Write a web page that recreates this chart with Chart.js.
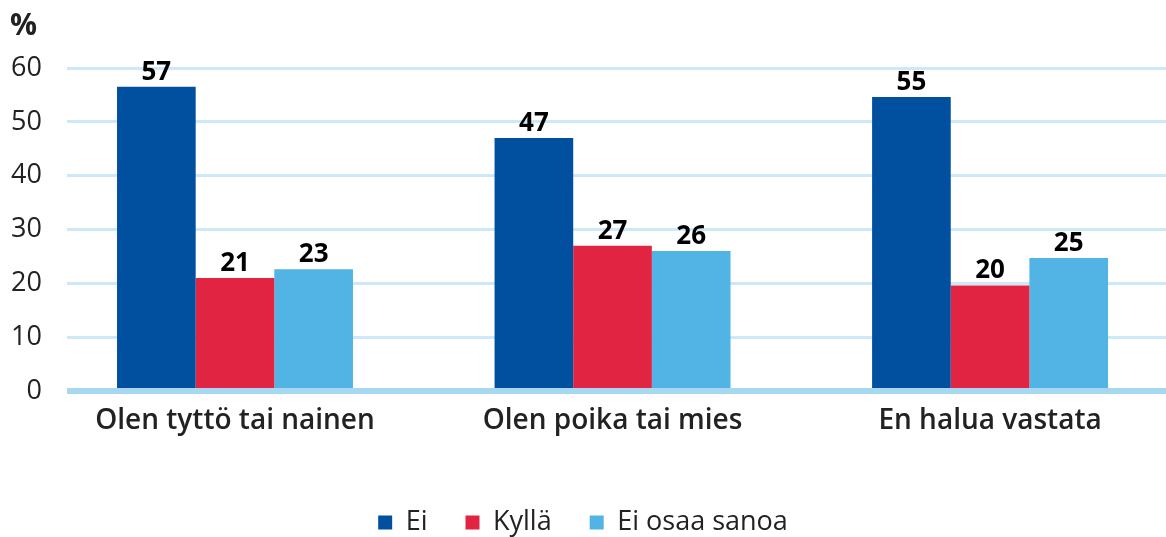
<!DOCTYPE html>
<html>
<head>
<meta charset="utf-8">
<script src="https://cdn.jsdelivr.net/npm/chart.js@4"></script>
<style>
  html, body { margin: 0; padding: 0; background: #fff; }
  #wrap { width: 1166px; height: 537px; }
</style>
</head>
<body>
<div id="wrap"><canvas id="chart"></canvas></div>
<script>
const categories = ['Olen tyttö tai nainen', 'Olen poika tai mies', 'En halua vastata'];
const seriesNames = ['Ei', 'Kyllä', 'Ei osaa sanoa'];
const eiValues = [56.5, 47, 54.6];
const kyllaValues = [21, 27, 19.6];
const eosValues = [22.6, 26, 24.7];
const yTicks = [0, 10, 20, 30, 40, 50, 60];
const colors = ['#00509f', '#e22443', '#52b4e5'];

const font = "'Open Sans', 'Noto Sans', sans-serif";
const textColor = '#222';

function toPoints(vals) {
    return vals.map((v, i) => ({ x: i, y: v }));
}

// value labels above bars + "%" unit label
const barLabels = {
    id: 'barLabels',
    afterDatasetsDraw(chart) {
        const ctx = chart.ctx;
        ctx.save();
        ctx.fillStyle = '#000';
        ctx.font = 'bold 26px ' + font;
        ctx.textAlign = 'center';
        ctx.textBaseline = 'alphabetic';
        chart.data.datasets.forEach((ds, di) => {
            chart.getDatasetMeta(di).data.forEach((bar, i) => {
                ctx.fillText(String(Math.round(ds.data[i].y)), bar.x, bar.y - 7);
            });
        });
        ctx.font = 'bold 30px ' + font;
        ctx.textAlign = 'left';
        ctx.fillStyle = textColor;
        ctx.fillText('%', chart.scales.y.left + 10, 35);
        ctx.restore();
    }
};

const ctx = document.getElementById('chart').getContext('2d');
new Chart(ctx, {
    type: 'bar',
    data: {
        datasets: [
            { label: seriesNames[0], data: toPoints(eiValues), backgroundColor: colors[0] },
            { label: seriesNames[1], data: toPoints(kyllaValues), backgroundColor: colors[1] },
            { label: seriesNames[2], data: toPoints(eosValues), backgroundColor: colors[2] }
        ]
    },
    options: {
        responsive: true,
        maintainAspectRatio: false,
        animation: false,
        events: [],
        layout: { padding: { top: 68, bottom: 0, left: 0, right: 0 } },
        datasets: { bar: { categoryPercentage: 0.625, barPercentage: 1, borderWidth: 0 } },
        scales: {
            x: {
                type: 'linear',
                offset: false,
                min: -0.445,
                max: 2.466,
                afterBuildTicks: s => { s.ticks = categories.map((c, i) => ({ value: i })); },
                afterFit: s => { s.height = 80; },
                grid: { display: false, drawTicks: false },
                border: { display: false },
                ticks: {
                    autoSkip: false,
                    maxRotation: 0,
                    padding: 13,
                    color: textColor,
                    font: { family: font, size: 28, weight: 600 },
                    callback: v => categories[v]
                }
            },
            y: {
                min: 0,
                max: 60,
                afterBuildTicks: s => { s.ticks = yTicks.map(v => ({ value: v })); },
                afterFit: s => { s.width = 67; },
                grid: {
                    drawTicks: false,
                    color: c => c.tick && c.tick.value === 0 ? '#a7d8f2' : '#cde8f7',
                    lineWidth: c => c.tick && c.tick.value === 0 ? 6 : 3
                },
                border: { display: false },
                ticks: {
                    padding: 25,
                    color: textColor,
                    font: { family: font, size: 27, weight: 500 }
                }
            }
        },
        plugins: {
            title: { display: false },
            tooltip: { enabled: false },
            legend: {
                position: 'bottom',
                maxHeight: 66,
                labels: {
                    boxWidth: 14,
                    boxHeight: 14,
                    padding: 38,
                    color: textColor,
                    font: { family: font, size: 27 }
                }
            }
        }
    },
    plugins: [barLabels]
});
</script>
</body>
</html>
